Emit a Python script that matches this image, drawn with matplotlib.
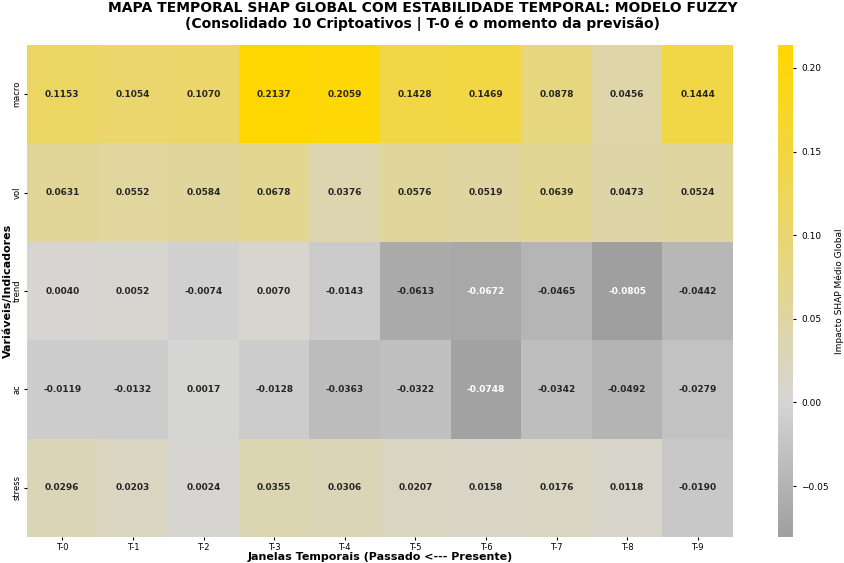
import numpy as np
import matplotlib
matplotlib.use("Agg")
import matplotlib.pyplot as plt
import seaborn as sns
from matplotlib.colors import LinearSegmentedColormap

variaveis = ["macro", "vol", "trend", "ac", "stress"]
janelas = ["T-0", "T-1", "T-2", "T-3", "T-4", "T-5", "T-6", "T-7", "T-8", "T-9"]

macro = [0.1153, 0.1054, 0.1070, 0.2137, 0.2059, 0.1428, 0.1469, 0.0878, 0.0456, 0.1444]
vol = [0.0631, 0.0552, 0.0584, 0.0678, 0.0376, 0.0576, 0.0519, 0.0639, 0.0473, 0.0524]
trend = [0.0040, 0.0052, -0.0074, 0.0070, -0.0143, -0.0613, -0.0672, -0.0465, -0.0805, -0.0442]
ac = [-0.0119, -0.0132, 0.0017, -0.0128, -0.0363, -0.0322, -0.0748, -0.0342, -0.0492, -0.0279]
stress = [0.0296, 0.0203, 0.0024, 0.0355, 0.0306, 0.0207, 0.0158, 0.0176, 0.0118, -0.0190]

dados = np.array([macro, vol, trend, ac, stress])
vmin, vmax = dados.min(), dados.max()

# cinza para negativos, dourado para positivos, com o zero em cinza claro
zero = (0 - vmin) / (vmax - vmin)
cmap = LinearSegmentedColormap.from_list(
    "shap_gold", [(0.0, "#9f9f9f"), (zero, "#d5d5d5"), (1.0, "#ffd700")])

fig = plt.figure(figsize=(8.45, 5.63), dpi=100)
ax = fig.add_axes([0.032, 0.046, 0.8355, 0.874])
cax = fig.add_axes([0.9207, 0.046, 0.0178, 0.874])

sns.heatmap(dados, ax=ax, cbar_ax=cax, cmap=cmap, vmin=vmin, vmax=vmax,
            annot=True, fmt=".4f", annot_kws={"size": 6.5, "weight": "bold"},
            xticklabels=janelas, yticklabels=variaveis, linewidths=0,
            cbar_kws={"label": "Impacto SHAP Médio Global"})

ax.tick_params(axis="both", labelsize=6, pad=1.5, length=2.5)
plt.setp(ax.get_yticklabels(), rotation=90, va="center")
plt.setp(ax.get_xticklabels(), rotation=0)
ax.set_xlabel("Janelas Temporais (Passado <--- Presente)", fontsize=8, fontweight="bold")
ax.xaxis.set_label_coords(0.5, -0.031)
ax.set_ylabel("Variáveis/Indicadores", fontsize=8, fontweight="bold")
ax.yaxis.set_label_coords(-0.02, 0.5)

cax.tick_params(labelsize=6.5, length=2.5)
cax.yaxis.label.set_size(6.5)
for s in cax.spines.values():
    s.set_visible(False)

fig.suptitle("MAPA TEMPORAL SHAP GLOBAL COM ESTABILIDADE TEMPORAL: MODELO FUZZY\n"
             "(Consolidado 10 Criptoativos | T-0 é o momento da previsão)",
             fontsize=10, fontweight="bold", y=0.999, va="top", linespacing=1.15)

fig.savefig("out.png", dpi=100)
